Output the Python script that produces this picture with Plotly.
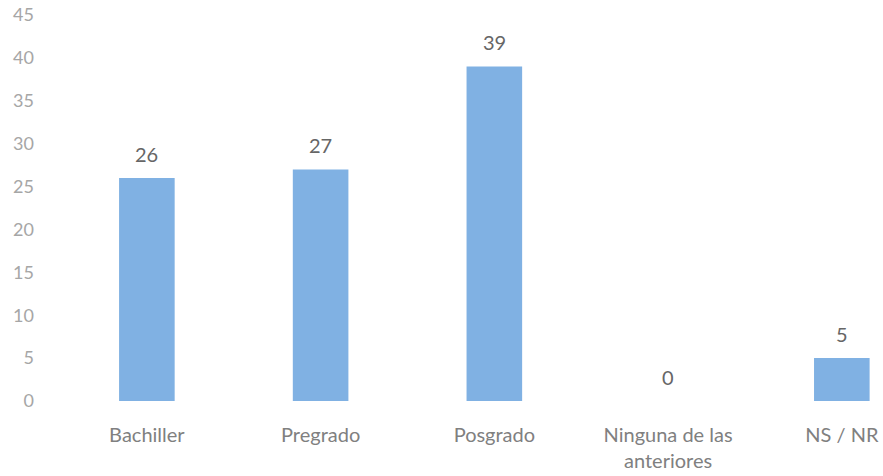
import plotly.graph_objects as go

categories = ["Bachiller", "Pregrado", "Posgrado", "Ninguna de las<br>anteriores", "NS / NR"]
values = [26, 27, 39, 0, 5]
y_ticks = [0, 5, 10, 15, 20, 25, 30, 35, 40, 45]

bar_color = "#80b1e3"
font_family = "Lato, 'Open Sans', sans-serif"

fig = go.Figure(go.Bar(
    x=categories, y=values,
    marker_color=bar_color, marker_line_width=0,
    hoverinfo="skip",
))

# etiquetas de valor encima de cada barra
for cat, val in zip(categories, values):
    fig.add_annotation(
        x=cat, y=val, text=str(val), showarrow=False,
        yshift=24, font=dict(size=20, color="#666666", family=font_family),
    )

fig.update_layout(
    width=883, height=476,
    margin=dict(l=60, r=0, t=15, b=75),
    paper_bgcolor="white", plot_bgcolor="white",
    bargap=0.68, showlegend=False,
    font=dict(family=font_family, size=20, color="#808080"),
    xaxis=dict(
        range=[-0.5, 4.237], showgrid=False, zeroline=False, showline=False,
        ticks="outside", ticklen=16, tickcolor="white", automargin=False,
        ticklabeloverflow="allow",
        tickfont=dict(size=20, color="#808080"),
    ),
    yaxis=dict(
        range=[0, 45], tickvals=y_ticks, showgrid=False, zeroline=False,
        showline=False, ticklabelstandoff=25, automargin=False,
        ticklabeloverflow="allow",
        tickfont=dict(size=18, color="#a6a6a6"),
    ),
)

# sin el margen por defecto del body la figura llena la ventana
fig.write_html(
    "out.html",
    config={"displayModeBar": False},
    post_script="document.body.style.margin = '0';",
)
